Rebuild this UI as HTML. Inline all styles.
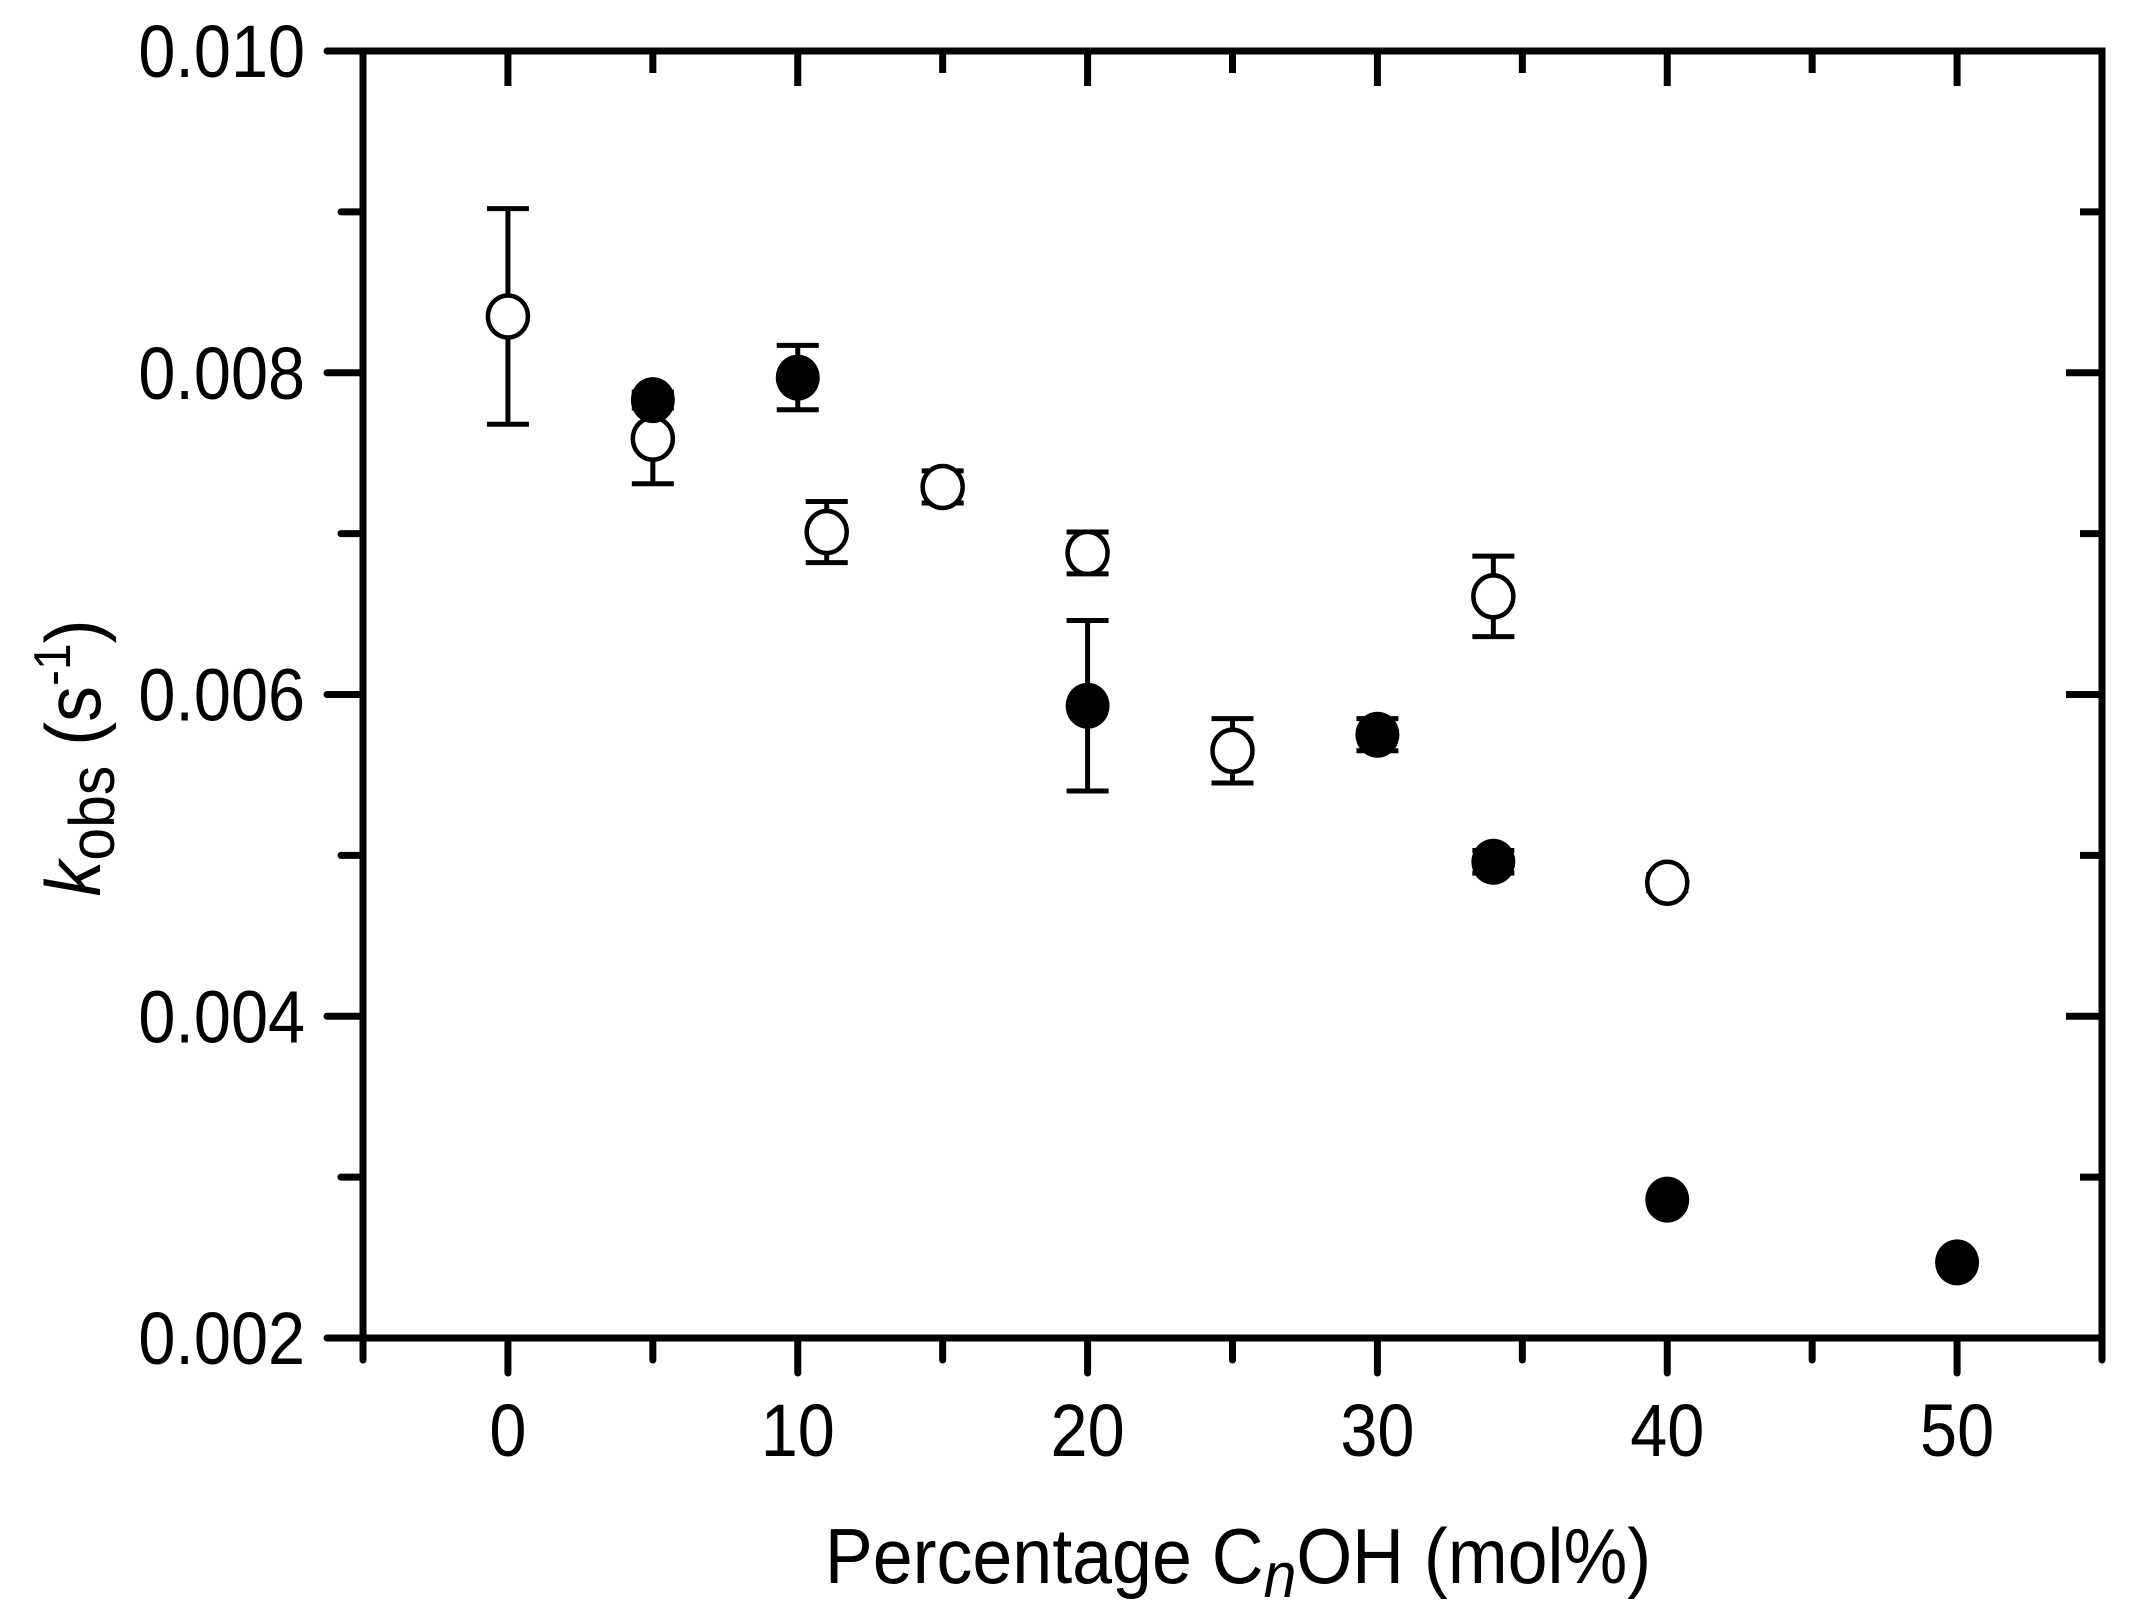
<!DOCTYPE html>
<html><head><meta charset="utf-8"><style>
html,body{margin:0;padding:0;background:#fff;}
svg{display:block;font-family:"Liberation Sans",Arial,sans-serif;}
</style></head><body>
<svg id="chart" width="2146" height="1621" viewBox="0 0 2146 1621" xmlns="http://www.w3.org/2000/svg">
<g id="axes"></g>
<g id="marks"></g>
<g transform="translate(1238,1583) scale(0.92,1)">
<text text-anchor="middle" font-size="78" fill="#000">Percentage C<tspan font-style="italic" font-size="64" dy="14">n</tspan><tspan dy="-14">OH (mol%)</tspan></text>
</g>
<g transform="translate(100,758) rotate(-90) scale(0.92,1)">
<text text-anchor="middle" font-size="78" fill="#000"><tspan font-style="italic">k</tspan><tspan font-size="64" dy="14">obs</tspan><tspan dy="-14"> (s</tspan><tspan font-size="52" dy="-30">-1</tspan><tspan dy="30">)</tspan></text>
</g>
</svg>
<script>
const xTicks = [0,10,20,30,40,50];
const yTicks = [0.002,0.004,0.006,0.008,0.010];
const yTickLabels = ["0.002","0.004","0.006","0.008","0.010"];
const openX = [0,5,11,15,20,25,34,40];
const openY = [0.00835,0.00759,0.00701,0.00729,0.00688,0.00565,0.00661,0.00483];
const openErr = [0.00067,0.00028,0.00019,0.0001,0.00013,0.0002,0.00025,0.00005];
const filledX = [5,10,20,30,34,40,50];
const filledY = [0.00783,0.00797,0.00593,0.00575,0.00496,0.00286,0.00247];
const filledErr = [0.00005,0.0002,0.00053,0.0001,0.00007,0,0];

const L=363,R=2102,T=51,B=1338,XMIN=-5,XMAX=55,YMIN=0.002,YMAX=0.010;
function sx(v){return L+(v-XMIN)/(XMAX-XMIN)*(R-L);}
function sy(v){return B-(v-YMIN)/(YMAX-YMIN)*(B-T);}
const NS="http://www.w3.org/2000/svg";
function mk(tag,attrs,parent){const e=document.createElementNS(NS,tag);for(const k in attrs)e.setAttribute(k,attrs[k]);parent.appendChild(e);return e;}
const axes=document.getElementById('axes'), marks=document.getElementById('marks');
const frame=mk('rect',{x:L,y:T,width:R-L,height:B-T,fill:'none',stroke:'#000','stroke-width':7},axes);


for(let v=-5; v<=55; v+=5){
  const major = v%10===0;
  const len = major?35:22;
  const t=mk('line',{x1:sx(v),x2:sx(v),y1:B,y2:B+len,stroke:'#000','stroke-width':7,'stroke-linecap':'round'},axes);
  
  
  const t2=mk('line',{x1:sx(v),x2:sx(v),y1:T,y2:T+len,stroke:'#000','stroke-width':7},axes);
  
  
}
xTicks.forEach(v=>{
  const g=mk('g',{transform:`translate(${sx(v)},1456) scale(0.9,1)`},axes);
  const t=mk('text',{'text-anchor':'middle','font-size':74,fill:'#000'},g);
  t.textContent=String(v);
  
  
});
for(let i=0;i<=8;i++){
  const v=0.002+i*0.001;
  const major=i%2===0;
  const len=major?36:22;
  const t=mk('line',{x1:L-len,x2:L,y1:sy(v),y2:sy(v),stroke:'#000','stroke-width':7,'stroke-linecap':'round'},axes);
  
  
  const t2=mk('line',{x1:R-len,x2:R,y1:sy(v),y2:sy(v),stroke:'#000','stroke-width':7},axes);
  
  
}
yTicks.forEach((v,i)=>{
  const g=mk('g',{transform:`translate(305,${sy(v)+26}) scale(0.9,1)`},axes);
  const t=mk('text',{'text-anchor':'end','font-size':74,fill:'#000'},g);
  t.textContent=yTickLabels[i];
  
  
});
function drawPoint(x,y,e,filled){
  const cx=sx(x), cy=sy(y);
  if(e>0){
    const y1=sy(y+e), y2=sy(y-e);
    const eb=mk('path',{d:`M${cx},${y1}V${y2}M${cx-21},${y1}H${cx+21}M${cx-21},${y2}H${cx+21}`,stroke:'#000','stroke-width':5,fill:'none'},marks);
    
    
  }
  const c=mk('ellipse',{cx:cx,cy:cy,rx:filled?22:20,ry:filled?23:21,fill:filled?'#000':'#fff',stroke:'#000','stroke-width':filled?0:4.5},marks);
  
  
}
openX.forEach((x,i)=>drawPoint(x,openY[i],openErr[i],false));
filledX.forEach((x,i)=>drawPoint(x,filledY[i],filledErr[i],true));
</script>
</body></html>
